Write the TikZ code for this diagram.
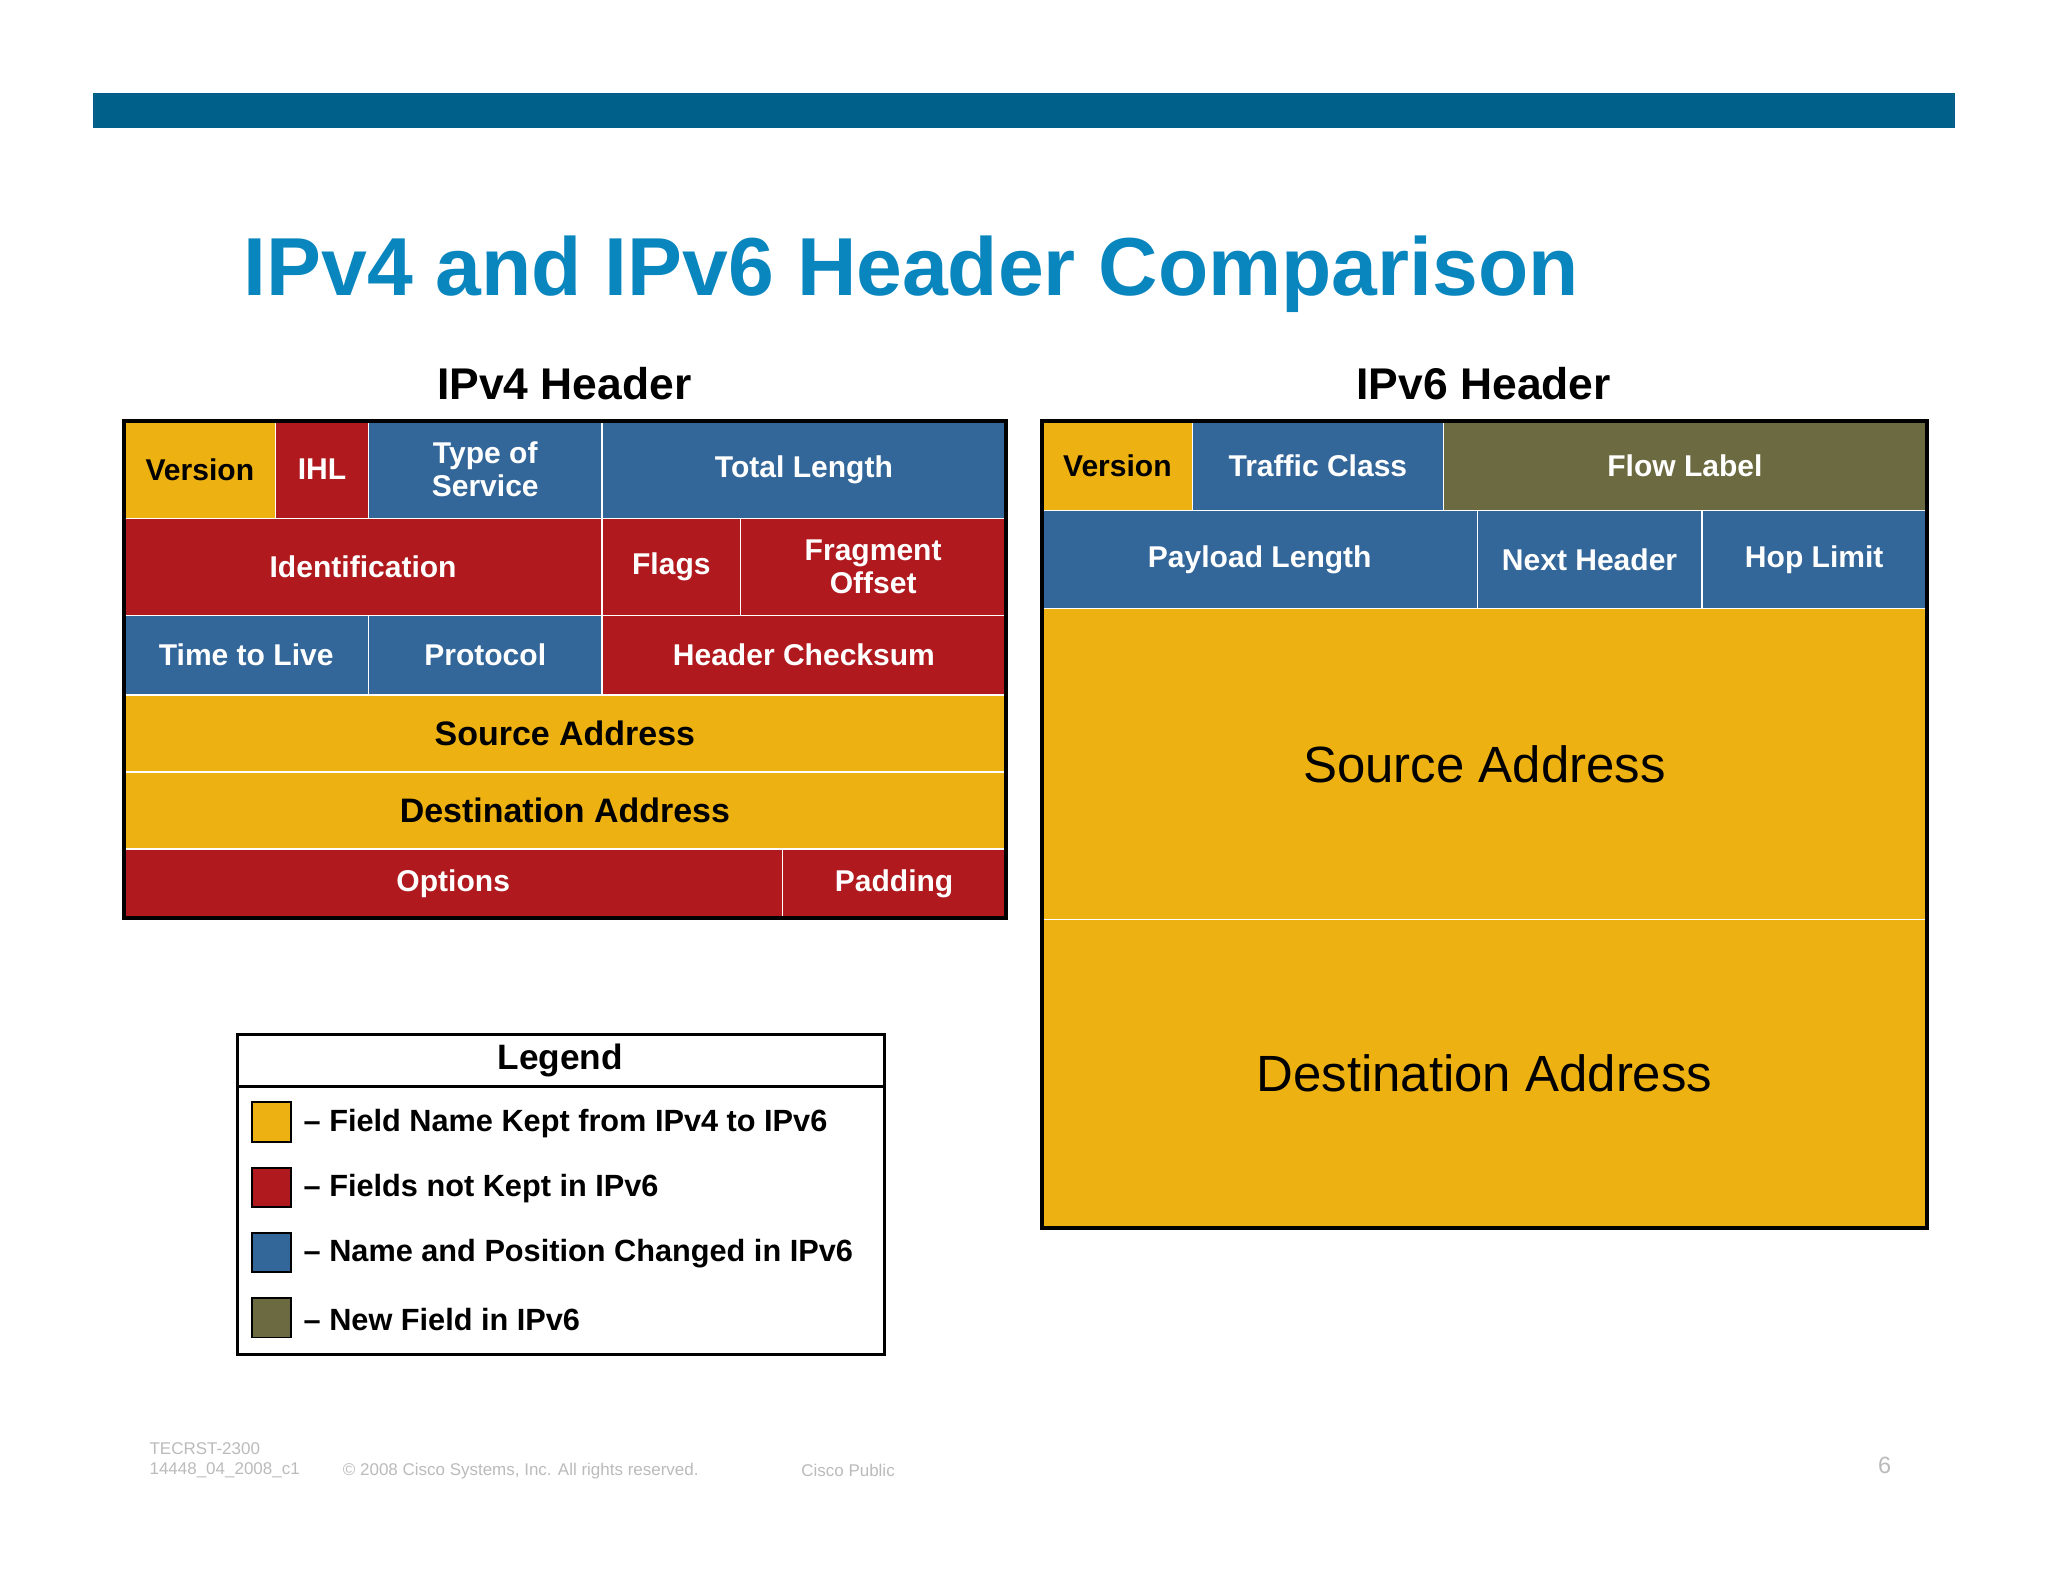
\documentclass[tikz,border=0pt]{standalone}
\usepackage{fontspec}
\setmainfont{Liberation Sans}
\definecolor{cy}{HTML}{EDB111}
\definecolor{cr}{HTML}{B0191E}
\definecolor{cb}{HTML}{336699}
\definecolor{co}{HTML}{6B6A40}
\definecolor{bar}{HTML}{00608A}
\definecolor{ttl}{HTML}{0A86BE}
\definecolor{foot}{HTML}{BBBBBB}
\newcommand{\mycell}[8]{%
  \node[cellbox,fill=#6,text=#7,
    minimum width=#4-#2, minimum height=#5-#3] (#1) at ({(#2+#4)/2},{(#3+#5)/2}) {#8};}
\tikzset{
  cellbox/.style={draw=white,line width=1pt,inner sep=0pt,align=center,
    font=\fontsize{23}{25}\selectfont\bfseries},
  hdr/.style={font=\fontsize{34}{38}\selectfont\bfseries},
  legtxt/.style={anchor=west,font=\fontsize{23.5}{25}\selectfont\bfseries},
  sq/.style={draw=black,line width=1.5pt,minimum size=30pt,inner sep=0pt},
  ft/.style={anchor=west,text=foot,font=\fontsize{13}{14}\selectfont}
}
\begin{document}
\begin{tikzpicture}[x=1pt,y=-1pt]
\useasboundingbox[fill=white] (0,0) rectangle (1568,1211);
\fill[bar] (71,71) rectangle (1497,98);
\node[anchor=west,text=ttl,font=\fontsize{63}{68}\selectfont\bfseries] (title) at (183,210) {IPv4 and IPv6 Header Comparison};
\node[hdr] (h4) at (432,294) {IPv4 Header};
\node[hdr] (h6) at (1136,294) {IPv6 Header};
% IPv4
\mycell{v4ver}{95}{322}{211}{397}{cy}{black}{Version}
\mycell{ihl}{211}{322}{282}{397}{cr}{white}{IHL}
\mycell{tos}{282}{322}{461}{397}{cb}{white}{Type of\\Service}
\mycell{tl}{461}{322}{770}{397}{cb}{white}{Total Length}
\mycell{id}{95}{397}{461}{471}{cr}{white}{Identification}
\mycell{flags}{461}{397}{567}{471}{cr}{white}{Flags}
\mycell{fo}{567}{397}{770}{471}{cr}{white}{Fragment\\Offset}
\mycell{ttl}{95}{471}{282}{532}{cb}{white}{Time to Live}
\mycell{proto}{282}{471}{461}{532}{cb}{white}{Protocol}
\mycell{hc}{461}{471}{770}{532}{cr}{white}{Header Checksum}
\mycell{sa4}{95}{532}{770}{591}{cy}{black}{\fontsize{26}{28}\selectfont Source Address}
\mycell{da4}{95}{591}{770}{650}{cy}{black}{\fontsize{26}{28}\selectfont Destination Address}
\mycell{opt}{95}{650}{599}{703}{cr}{white}{Options}
\mycell{pad}{599}{650}{770}{703}{cr}{white}{Padding}
\draw[line width=3pt] (95,322) rectangle (770,703);
% IPv6
\mycell{v6ver}{798}{322}{913}{391}{cy}{black}{Version}
\mycell{tc}{913}{322}{1105}{391}{cb}{white}{Traffic Class}
\mycell{fl}{1105}{322}{1475}{391}{co}{white}{Flow Label}
\mycell{pl}{798}{391}{1131}{466}{cb}{white}{Payload Length}
\mycell{nh}{1131}{391}{1303}{466}{cb}{white}{Next Header}
\mycell{hl}{1303}{391}{1475}{466}{cb}{white}{Hop Limit}
\mycell{sa6}{798}{466}{1475}{704}{cy}{black}{\fontsize{39}{42}\selectfont\mdseries Source Address}
\mycell{da6}{798}{704}{1475}{940}{cy}{black}{\fontsize{39}{42}\selectfont\mdseries Destination Address}
\draw[line width=3pt] (798,322) rectangle (1475,940);
% Legend
\draw[line width=2.5pt] (182,792) rectangle (677,1037);
\draw[line width=2.5pt] (182,832) -- (677,832);
\node[font=\fontsize{27}{29}\selectfont\bfseries] (leg) at (429,812) {Legend};
\node[sq,fill=cy] (s1) at (208,859) {};
\node[sq,fill=cr] (s2) at (208,909) {};
\node[sq,fill=cb] (s3) at (208,959) {};
\node[sq,fill=co] (s4) at (208,1009) {};
\node[legtxt] (l1) at (229,860) {– Field Name Kept from IPv4 to IPv6};
\node[legtxt] (l2) at (229,910) {– Fields not Kept in IPv6};
\node[legtxt] (l3) at (229,960) {– Name and Position Changed in IPv6};
\node[legtxt] (l4) at (229,1010) {– New Field in IPv6};
% footer
\node[ft] (f1) at (111,1109) {TECRST-2300};
\node[ft] (f2) at (111,1126) {14448\_04\_2008\_c1};
\node[ft] (f3) at (259,1126) {© 2008 Cisco Systems, Inc. All rights reserved.};
\node[ft] (f4) at (610,1126) {Cisco Public};
\node[text=foot,font=\fontsize{18}{20}\selectfont] (pg) at (1443,1122) {6};
\end{tikzpicture}
\end{document}
